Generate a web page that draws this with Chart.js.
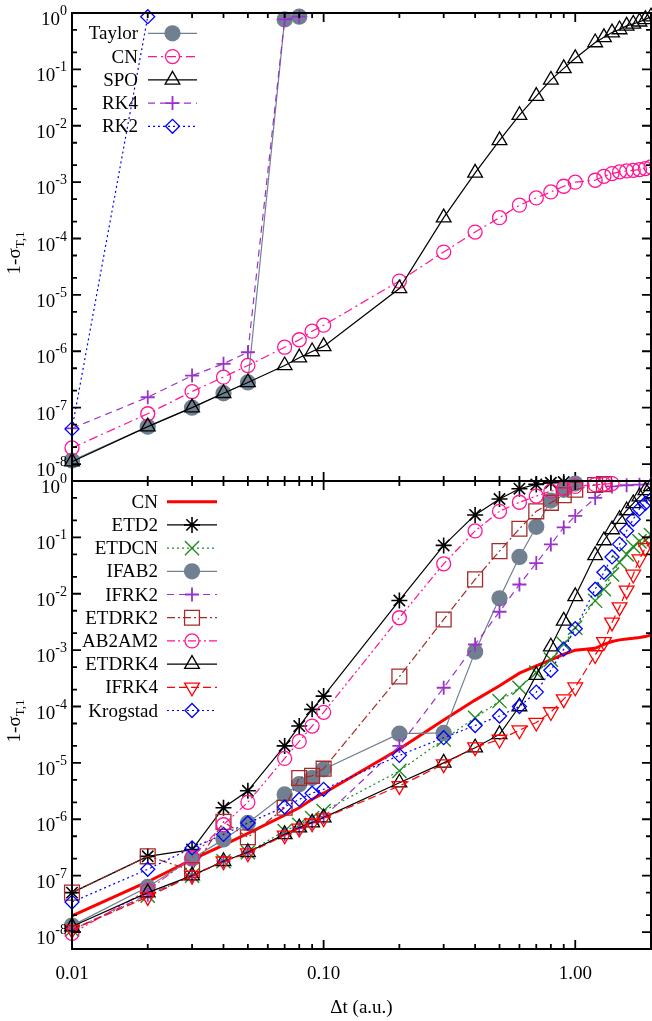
<!DOCTYPE html>
<html>
<head>
<meta charset="utf-8">
<script src="https://cdn.jsdelivr.net/npm/chart.js@4.4.1/dist/chart.umd.min.js"></script>
<style>
  body { margin: 0; background: #fff; }
  #wrap { position: relative; width: 652px; height: 1021px; }
  canvas { position: absolute; left: 0; }
  #top { top: 0; }
  #bottom { top: 470px; }
</style>
</head>
<body>
<div id="wrap">
  <canvas id="top" width="652" height="490"></canvas>
  <canvas id="bottom" width="652" height="551"></canvas>
</div>
<script>
// time steps (a.u.) shared by most runs
const dtFull = [0.01, 0.02, 0.03, 0.04, 0.05, 0.07, 0.08, 0.09, 0.1, 0.2, 0.3, 0.4, 0.5, 0.6, 0.7, 0.8, 0.9, 1.0, 1.2, 1.3, 1.4, 1.5, 1.6, 1.7, 1.8, 1.9, 2.0];

// upper panel: 1 - sigma_T,1
const taylorDt = [0.01, 0.02, 0.03, 0.04, 0.05, 0.07, 0.08];
const taylorErr = [1.15e-8, 4.6e-8, 1.0e-7, 1.8e-7, 2.8e-7, 0.77, 0.86];
const cnErr = [1.93e-8, 7.8e-8, 1.93e-7, 3.47e-7, 5.6e-7, 1.18e-6, 1.6e-6, 2.27e-6, 2.9e-6,
  1.76e-5, 5.75e-5, 1.3e-4, 2.34e-4, 3.9e-4, 5.25e-4, 6.7e-4, 8.45e-4, 1.0e-3,
  1.08e-3, 1.27e-3, 1.42e-3, 1.52e-3, 1.58e-3, 1.62e-3, 1.67e-3, 1.74e-3, 1.86e-3];
const spoErr = [1.1e-8, 4.6e-8, 1.0e-7, 1.8e-7, 2.8e-7, 5.6e-7, 7.7e-7, 9.9e-7, 1.22e-6,
  1.3e-5, 2.35e-4, 1.46e-3, 5.5e-3, 1.54e-2, 3.36e-2, 6.5e-2, 0.104, 0.157,
  0.30, 0.37, 0.45, 0.51, 0.59, 0.64, 0.70, 0.77, 0.86];
const rk4Dt = [0.01, 0.02, 0.03, 0.04, 0.05, 0.07, 0.08];
const rk4Err = [4.3e-8, 1.53e-7, 3.7e-7, 6.0e-7, 9.6e-7, 0.77, 0.86];
const rk2Dt = [0.01, 0.02];
const rk2Err = [4.2e-8, 0.86];

// lower panel
const etd2Dt = [0.01, 0.02, 0.03, 0.04, 0.05, 0.07, 0.08, 0.09, 0.1, 0.2, 0.3, 0.4, 0.5, 0.6, 0.7, 0.8, 0.9];
const etd2Err = [5.0e-8, 2.2e-7, 2.9e-7, 1.6e-6, 3.2e-6, 2.0e-5, 4.5e-5, 8.9e-5, 1.53e-4,
  7.6e-3, 7.2e-2, 0.25, 0.48, 0.73, 0.87, 0.93, 0.96];
const etdcnErr = [1.1e-8, 4.4e-8, 1.0e-7, 1.8e-7, 2.6e-7, 6.2e-7, 8.0e-7, 1.05e-6, 1.4e-6,
  7.2e-6, 2.6e-5, 6.3e-5, 1.25e-4, 2.15e-4, 4.0e-4, 6.8e-4, 1.28e-3, 2.5e-3,
  7.5e-3, 1.2e-2, 2.2e-2, 3.6e-2, 5.0e-2, 6.9e-2, 8.5e-2, 0.09, 0.11];
const ifab2Dt = [0.01, 0.02, 0.03, 0.04, 0.05, 0.07, 0.08, 0.09, 0.1, 0.2, 0.3, 0.4, 0.5, 0.6, 0.7, 0.8, 0.9, 1.0];
const ifab2Err = [1.3e-8, 6.3e-8, 2.0e-7, 4.4e-7, 8.6e-7, 2.76e-6, 4.2e-6, 5.4e-6, 7.7e-6,
  3.3e-5, 3.4e-5, 9.4e-4, 8.3e-3, 4.5e-2, 0.154, 0.45, 0.70, 0.90];
const ifrk2Dt = [0.01, 0.02, 0.03, 0.04, 0.05, 0.07, 0.08, 0.09, 0.1, 0.2, 0.3, 0.4, 0.5, 0.6, 0.7, 0.8, 0.9, 1.0, 1.2, 1.4, 1.6, 1.8, 2.0];
const ifrk2Err = [1.1e-8, 4.6e-8, 1.0e-7, 1.8e-7, 2.6e-7, 5.4e-7, 7.0e-7, 8.7e-7, 1.1e-6,
  2.0e-5, 2.15e-4, 1.26e-3, 4.8e-3, 1.46e-2, 3.5e-2, 7.5e-2, 0.15, 0.24,
  0.5, 0.8, 0.84, 0.86, 0.88];
const etdrk2Dt = [0.01, 0.02, 0.03, 0.04, 0.05, 0.07, 0.08, 0.09, 0.1, 0.2, 0.3, 0.4, 0.5, 0.6, 0.7, 0.8, 0.9, 1.0, 1.2, 1.3];
const etdrk2Err = [5.0e-8, 2.2e-7, 1.25e-7, 9.0e-7, 4.8e-7, 1.6e-6, 5.4e-6, 5.9e-6, 7.9e-6,
  3.4e-4, 3.5e-3, 1.8e-2, 5.7e-2, 0.142, 0.29, 0.41, 0.56, 0.70, 0.85, 0.88];
const ab2am2Dt = [0.01, 0.02, 0.03, 0.04, 0.05, 0.07, 0.08, 0.09, 0.1, 0.2, 0.3, 0.4, 0.5, 0.6, 0.7, 0.8, 0.9, 1.0, 1.2, 1.3, 1.4];
const ab2am2Err = [9.5e-9, 5.5e-8, 2.1e-7, 8.0e-7, 2.0e-6, 1.2e-5, 2.4e-5, 4.5e-5, 7.9e-5,
  3.75e-3, 3.4e-2, 0.13, 0.29, 0.42, 0.54, 0.66, 0.74, 0.80, 0.86, 0.88, 0.90];
const etdrk4Err = [1.25e-8, 5.0e-8, 1.0e-7, 1.8e-7, 2.6e-7, 5.4e-7, 7.1e-7, 8.7e-7, 1.07e-6,
  4.45e-6, 1.0e-5, 1.86e-5, 3.2e-5, 1.0e-4, 3.6e-4, 1.15e-3, 3.3e-3, 9.0e-3,
  4.8e-2, 8.8e-2, 0.138, 0.21, 0.30, 0.40, 0.53, 0.68, 0.80];
const ifrk4Err = [1.1e-8, 4.2e-8, 1.0e-7, 1.8e-7, 2.5e-7, 5.2e-7, 6.9e-7, 8.5e-7, 1.05e-6,
  3.9e-6, 9.5e-6, 1.9e-5, 2.6e-5, 3.8e-5, 5.2e-5, 8.0e-5, 1.35e-4, 2.2e-4,
  8.2e-4, 1.4e-3, 3.1e-3, 5.8e-3, 1.15e-2, 2.2e-2, 4.1e-2, 6.5e-2, 8.5e-2];
const krogstadErr = [3.4e-8, 1.3e-7, 3.1e-7, 5.4e-7, 8.6e-7, 1.65e-6, 2.25e-6, 2.9e-6, 3.4e-6,
  1.36e-5, 2.8e-5, 4.6e-5, 6.8e-5, 1.0e-4, 1.8e-4, 4.4e-4, 1.04e-3, 2.4e-3,
  1.2e-2, 2.4e-2, 4.5e-2, 7.6e-2, 0.131, 0.21, 0.32, 0.40, 0.47];

const xTickLabels = ["0.01", "0.10", "1.00"];
const yExponents = [-8, -7, -6, -5, -4, -3, -2, -1, 0];

const SERIF = '"Liberation Serif", "Times New Roman", serif';
const NONE = "rgba(0,0,0,0)";

function pts(dt, err) {
    return dt.map((d, i) => ({ x: d, y: err[i] }));
}

function serie(label, dt, err, s) {
    return {
        label: label,
        data: pts(dt, err),
        borderColor: s.color,
        borderWidth: s.lw || 1.2,
        borderDash: s.dash || [],
        pointStyle: s.marker || "circle",
        pointRadius: s.r || 0,
        pointHoverRadius: s.r || 0,
        pointRotation: s.rot || 0,
        pointBorderColor: s.color,
        pointBackgroundColor: s.fill ? s.color : NONE,
        pointBorderWidth: s.mlw || 1.3,
        tension: 0,
        fill: false,
        clip: false
    };
}

function marker(ctx, ds, x, y) {
    if (!ds.pointRadius) return;
    ctx.save();
    ctx.setLineDash([]);
    ctx.strokeStyle = ds.pointBorderColor;
    ctx.fillStyle = ds.pointBackgroundColor;
    ctx.lineWidth = ds.pointBorderWidth;
    Chart.helpers.drawPoint(ctx, {
        pointStyle: ds.pointStyle,
        rotation: ds.pointRotation,
        radius: ds.pointRadius,
        borderWidth: ds.pointBorderWidth
    }, x, y);
    ctx.restore();
}

// gnuplot-style key: right-aligned title, sample line and symbol
function drawKey(chart, k) {
    const ctx = chart.ctx;
    chart.data.datasets.forEach((ds, i) => {
        const y = k.y0 + i * k.step;
        ctx.save();
        ctx.font = "19px " + SERIF;
        ctx.fillStyle = "#000";
        ctx.textAlign = "right";
        ctx.textBaseline = "alphabetic";
        ctx.fillText(ds.label, k.textRight, y + 6);
        ctx.strokeStyle = ds.borderColor;
        ctx.lineWidth = ds.borderWidth;
        ctx.setLineDash(ds.borderDash);
        ctx.beginPath();
        ctx.moveTo(k.x0, y);
        ctx.lineTo(k.x1, y);
        ctx.stroke();
        ctx.restore();
        marker(ctx, ds, (k.x0 + k.x1) / 2, y);
    });
}

function drawFrame(chart) {
    const { ctx, chartArea: a } = chart;
    const xs = chart.scales.x, ys = chart.scales.y;
    ctx.save();
    ctx.strokeStyle = "#000";
    ctx.setLineDash([]);
    ctx.lineWidth = 1.8;
    ctx.beginPath();
    [0.01, 0.1, 1].forEach(dec => {
        for (let m = 1; m <= 9; m++) {
            const v = m * dec;
            if (v < xs.min - 1e-12 || v > xs.max + 1e-12) continue;
            const px = xs.getPixelForValue(v);
            const len = m === 1 ? 9 : 5;
            ctx.moveTo(px, a.top); ctx.lineTo(px, a.top + len);
            ctx.moveTo(px, a.bottom); ctx.lineTo(px, a.bottom - len);
        }
    });
    for (let e = -9; e <= 0; e++) {
        [[1, 9], [2, 5], [5, 5]].forEach(([m, len]) => {
            const v = m * Math.pow(10, e);
            if (v < ys.min * 0.999 || v > ys.max * 1.001) return;
            const py = ys.getPixelForValue(v);
            ctx.moveTo(a.left, py); ctx.lineTo(a.left + len, py);
            ctx.moveTo(a.right, py); ctx.lineTo(a.right - len, py);
        });
    }
    ctx.stroke();
    ctx.lineWidth = 2;
    ctx.strokeRect(a.left, a.top, a.right - a.left, a.bottom - a.top);

    // y tick labels 10^n
    ctx.fillStyle = "#000";
    ctx.textBaseline = "alphabetic";
    ctx.textAlign = "left";
    yExponents.forEach(e => {
        const py = ys.getPixelForValue(Math.pow(10, e));
        const ex = String(e);
        ctx.font = "19px " + SERIF;
        const wb = ctx.measureText("10").width;
        ctx.font = "14px " + SERIF;
        const we = ctx.measureText(ex).width;
        const x0 = 67 - wb - we;
        ctx.font = "19px " + SERIF;
        ctx.fillText("10", x0, py + 12);
        ctx.font = "14px " + SERIF;
        ctx.fillText(ex, x0 + wb, py + 2);
    });

    // y title 1-sigma_{T,1}
    const cy = (a.top + a.bottom) / 2 + 6;
    ctx.translate(20, cy);
    ctx.rotate(-Math.PI / 2);
    ctx.font = "19px " + SERIF;
    const w1 = ctx.measureText("1-\u03c3").width;
    ctx.font = "13px " + SERIF;
    const w2 = ctx.measureText("T,1").width;
    const sx = -(w1 + w2) / 2;
    ctx.font = "19px " + SERIF;
    ctx.fillText("1-\u03c3", sx, 0);
    ctx.font = "13px " + SERIF;
    ctx.fillText("T,1", sx + w1, 4);
    ctx.restore();
}

const framePlugin = {
    id: "frame",
    afterDatasetsDraw(chart, args, opts) {
        drawFrame(chart);
        drawKey(chart, opts);
        if (opts.xLabels) {
            const ctx = chart.ctx;
            const xs = chart.scales.x;
            ctx.save();
            ctx.fillStyle = "#000";
            ctx.font = "19px " + SERIF;
            ctx.textAlign = "center";
            ctx.textBaseline = "alphabetic";
            [0.01, 0.1, 1].forEach((v, i) => {
                ctx.fillText(xTickLabels[i], xs.getPixelForValue(v), chart.chartArea.bottom + 30);
            });
            ctx.fillText("\u0394t (a.u.)", (chart.chartArea.left + chart.chartArea.right) / 2, chart.chartArea.bottom + 64);
            ctx.restore();
        }
    }
};

function panel(id, datasets, padding, key) {
    datasets.forEach((ds, i) => { ds.order = -i; });
    return new Chart(document.getElementById(id), {
        type: "line",
        data: { datasets: datasets },
        options: {
            responsive: false,
            devicePixelRatio: 1,
            animation: false,
            events: [],
            layout: { padding: padding, autoPadding: false },
            scales: {
                x: { type: "logarithmic", min: 0.01, max: 2, display: false },
                y: { type: "logarithmic", min: 5e-9, max: 1, display: false }
            },
            plugins: {
                legend: { display: false },
                tooltip: { enabled: false },
                frame: key
            }
        },
        plugins: [framePlugin]
    });
}

const PURPLE = "#9932cc", PINK = "#ff1493", GRAY = "#708090";

panel("top", [
    serie("Taylor", taylorDt, taylorErr, { color: GRAY, marker: "circle", r: 7.5, fill: true }),
    serie("CN", dtFull, cnErr, { color: PINK, dash: [9, 4, 2, 4], marker: "circle", r: 7 }),
    serie("SPO", dtFull, spoErr, { color: "#000", marker: "triangle", r: 8.5 }),
    serie("RK4", rk4Dt, rk4Err, { color: PURPLE, dash: [7, 5], marker: "cross", r: 7, mlw: 1.8 }),
    serie("RK2", rk2Dt, rk2Err, { color: "#0000ff", dash: [2, 3], marker: "rectRot", r: 7 })
], { left: 72, right: 1, top: 13, bottom: 9 },
   { y0: 33.3, step: 23.25, textRight: 138, x0: 148, x1: 197 });

panel("bottom", [
    serie("CN", dtFull, cnErr, { color: "#ff0000", lw: 3 }),
    serie("ETD2", etd2Dt, etd2Err, { color: "#000", marker: "star", r: 8, mlw: 1.6 }),
    serie("ETDCN", dtFull, etdcnErr, { color: "#228b22", dash: [2, 3], marker: "crossRot", r: 10, mlw: 1.4 }),
    serie("IFAB2", ifab2Dt, ifab2Err, { color: GRAY, marker: "circle", r: 7.5, fill: true }),
    serie("IFRK2", ifrk2Dt, ifrk2Err, { color: PURPLE, dash: [7, 5], marker: "cross", r: 7, mlw: 1.8 }),
    serie("ETDRK2", etdrk2Dt, etdrk2Err, { color: "#a52a2a", dash: [8, 3, 2, 3], marker: "rect", r: 10.5 }),
    serie("AB2AM2", ab2am2Dt, ab2am2Err, { color: PINK, dash: [8, 3, 2, 3, 2, 3], marker: "circle", r: 7 }),
    serie("ETDRK4", dtFull, etdrk4Err, { color: "#000", marker: "triangle", r: 8.5 }),
    serie("IFRK4", dtFull, ifrk4Err, { color: "#ff0000", dash: [8, 4], marker: "triangle", rot: 180, r: 8.5 }),
    serie("Krogstad", dtFull, krogstadErr, { color: "#0000ff", dash: [2, 3], marker: "rectRot", r: 7 })
], { left: 72, right: 1, top: 11, bottom: 72 },
   { y0: 31.7, step: 23.2, textRight: 158, x0: 167, x1: 217, xLabels: true });
</script>
</body>
</html>
